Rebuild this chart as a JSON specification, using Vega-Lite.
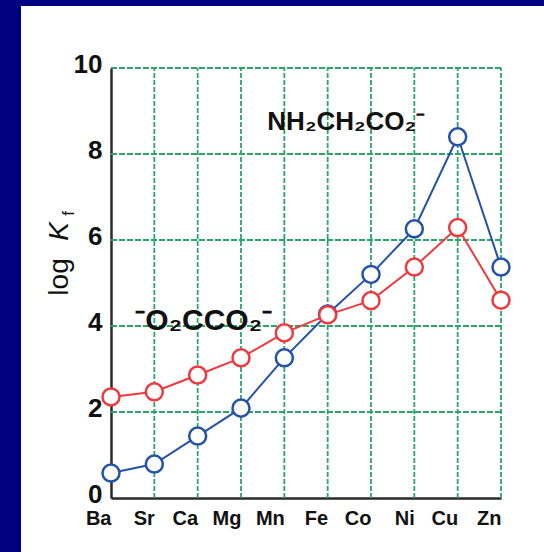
{
  "$schema": "https://vega.github.io/schema/vega-lite/v6.json",
  "width": 523,
  "height": 546,
  "autosize": "none",
  "padding": {"left": 21, "top": 6, "right": 0, "bottom": 0},
  "background": "#000080",
  "config": {"view": {"fill": "white", "stroke": null}},
  "datasets": {
    "k": [
      {"metal": "Ba", "ligand": "glycinate", "logK": 0.58},
      {"metal": "Sr", "ligand": "glycinate", "logK": 0.79},
      {"metal": "Ca", "ligand": "glycinate", "logK": 1.44},
      {"metal": "Mg", "ligand": "glycinate", "logK": 2.09},
      {"metal": "Mn", "ligand": "glycinate", "logK": 3.26},
      {"metal": "Fe", "ligand": "glycinate", "logK": 4.28},
      {"metal": "Co", "ligand": "glycinate", "logK": 5.2},
      {"metal": "Ni", "ligand": "glycinate", "logK": 6.26},
      {"metal": "Cu", "ligand": "glycinate", "logK": 8.4},
      {"metal": "Zn", "ligand": "glycinate", "logK": 5.37},
      {"metal": "Ba", "ligand": "oxalate", "logK": 2.35},
      {"metal": "Sr", "ligand": "oxalate", "logK": 2.47},
      {"metal": "Ca", "ligand": "oxalate", "logK": 2.86},
      {"metal": "Mg", "ligand": "oxalate", "logK": 3.26},
      {"metal": "Mn", "ligand": "oxalate", "logK": 3.84},
      {"metal": "Fe", "ligand": "oxalate", "logK": 4.26},
      {"metal": "Co", "ligand": "oxalate", "logK": 4.59},
      {"metal": "Ni", "ligand": "oxalate", "logK": 5.37},
      {"metal": "Cu", "ligand": "oxalate", "logK": 6.29},
      {"metal": "Zn", "ligand": "oxalate", "logK": 4.6}
    ],
    "metals": [
      {"metal": "Sr"}, {"metal": "Ca"}, {"metal": "Mg"}, {"metal": "Mn"}, {"metal": "Fe"},
      {"metal": "Co"}, {"metal": "Ni"}, {"metal": "Cu"}, {"metal": "Zn"}
    ],
    "hgrid": [{"v": 2}, {"v": 4}, {"v": 6}, {"v": 8}, {"v": 10}],
    "one": [{"a": 1}]
  },
  "layer": [
    {
      "data": {"name": "metals"},
      "mark": {"type": "rule", "color": "#2aa66a", "strokeWidth": 1.8, "strokeDash": [5, 2]},
      "encoding": {
        "x": {"field": "metal", "type": "nominal"},
        "y": {"datum": 0, "type": "quantitative"},
        "y2": {"datum": 10}
      }
    },
    {
      "data": {"name": "hgrid"},
      "mark": {"type": "rule", "color": "#2aa66a", "strokeWidth": 1.8, "strokeDash": [6, 2]},
      "encoding": {
        "y": {"field": "v", "type": "quantitative"},
        "x": {"datum": "Ba", "type": "nominal"},
        "x2": {"datum": "Zn"}
      }
    },
    {
      "data": {"name": "k"},
      "mark": {"type": "line", "strokeWidth": 2},
      "encoding": {
        "x": {
          "field": "metal", "type": "nominal",
          "scale": {"type": "point", "domain": ["Ba", "Sr", "Ca", "Mg", "Mn", "Fe", "Co", "Ni", "Cu", "Zn"], "range": [90, 480], "padding": 0},
          "axis": {
            "orient": "bottom", "offset": -54, "title": null, "ticks": false, "tickSize": 0,
            "grid": false, "domainColor": "#2a2a2a", "domainWidth": 2.5,
            "labelFont": "Liberation Sans Narrow, Liberation Sans", "labelFontSize": 20, "labelFontWeight": "bold",
            "labelColor": "#111", "labelPadding": 20, "labelAngle": 0, "labelBaseline": "middle"
          }
        },
        "y": {
          "field": "logK", "type": "quantitative",
          "scale": {"domain": [0, 10], "range": [492, 62], "nice": false, "zero": false},
          "axis": {
            "orient": "left", "offset": -90, "title": null, "ticks": false, "tickSize": 0,
            "grid": false, "values": [0, 2, 4, 6, 8, 10], "domainColor": "#2a2a2a", "domainWidth": 2.5,
            "labelFont": "Liberation Sans", "labelFontSize": 26, "labelFontWeight": "bold",
            "labelColor": "#111", "labelPadding": 9, "labelOffset": -4
          }
        },
        "color": {"field": "ligand", "type": "nominal", "scale": {"domain": ["glycinate", "oxalate"], "range": ["#2452a8", "#ee3a3f"]}, "legend": null},
        "order": {"value": null}
      }
    },
    {
      "data": {"name": "k"},
      "mark": {"type": "point", "shape": "circle", "filled": false, "fill": "white", "fillOpacity": 1, "size": 290, "strokeWidth": 2.5, "opacity": 1},
      "encoding": {
        "x": {"field": "metal", "type": "nominal"},
        "y": {"field": "logK", "type": "quantitative"},
        "color": {"field": "ligand", "type": "nominal"}
      }
    },
    {
      "data": {"name": "one"},
      "mark": {"type": "text", "text": "NH₂CH₂CO₂⁻", "align": "left", "baseline": "middle", "font": "Liberation Sans", "fontSize": 26, "fontWeight": "bold", "color": "#111", "dx": -17},
      "encoding": {
        "x": {"datum": "Mn", "type": "nominal"},
        "y": {"datum": 8.75, "type": "quantitative"}
      }
    },
    {
      "data": {"name": "one"},
      "mark": {"type": "text", "text": "⁻O₂CCO₂⁻", "align": "left", "baseline": "middle", "font": "Liberation Sans", "fontSize": 30, "fontWeight": "bold", "color": "#111", "dx": -19},
      "encoding": {
        "x": {"datum": "Sr", "type": "nominal"},
        "y": {"datum": 4.12, "type": "quantitative"}
      }
    },
    {
      "data": {"name": "one"},
      "mark": {"type": "text", "text": "log", "angle": 270, "align": "center", "baseline": "alphabetic", "font": "Liberation Sans", "fontSize": 28, "color": "#111", "dy": -43},
      "encoding": {
        "x": {"datum": "Ba", "type": "nominal"},
        "y": {"datum": 5.14, "type": "quantitative"}
      }
    },
    {
      "data": {"name": "one"},
      "mark": {"type": "text", "text": "K", "angle": 270, "align": "center", "baseline": "alphabetic", "font": "Liberation Sans", "fontSize": 28, "fontStyle": "italic", "color": "#111", "dy": -43},
      "encoding": {
        "x": {"datum": "Ba", "type": "nominal"},
        "y": {"datum": 6.2, "type": "quantitative"}
      }
    },
    {
      "data": {"name": "one"},
      "mark": {"type": "text", "text": "f", "angle": 270, "align": "center", "baseline": "alphabetic", "font": "Liberation Sans", "fontSize": 17, "color": "#111", "dy": -37},
      "encoding": {
        "x": {"datum": "Ba", "type": "nominal"},
        "y": {"datum": 6.62, "type": "quantitative"}
      }
    }
  ]
}
